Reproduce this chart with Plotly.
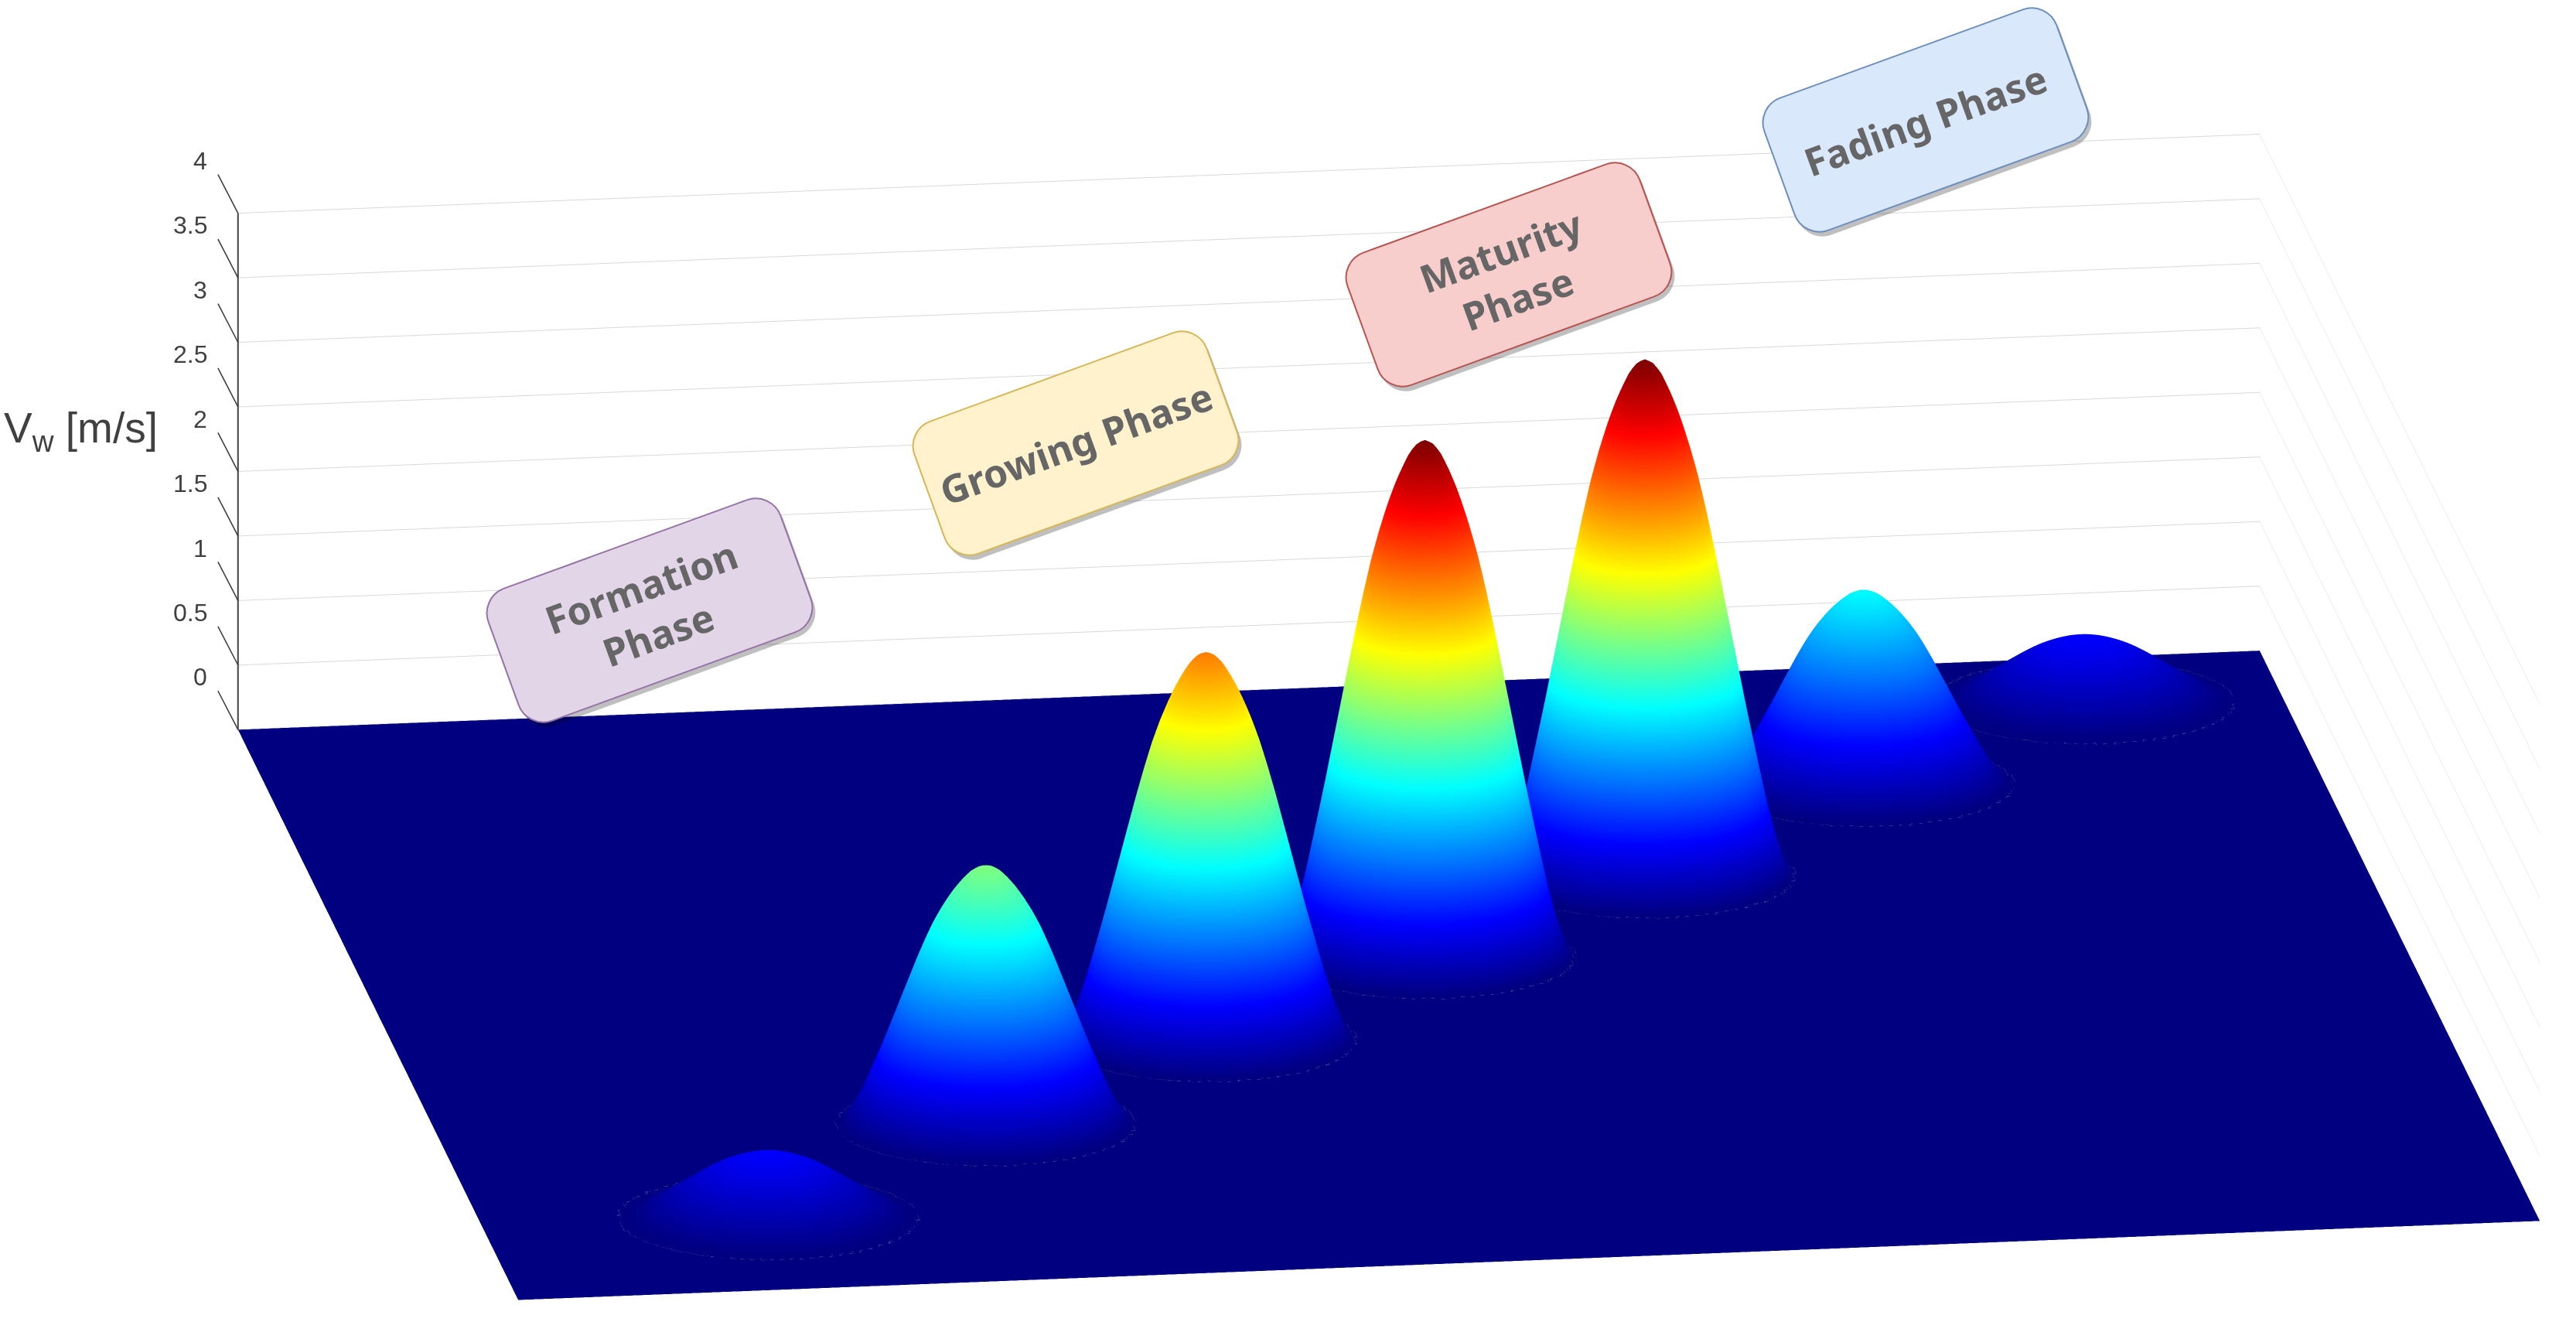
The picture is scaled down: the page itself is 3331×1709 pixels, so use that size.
import math
import numpy as np
import plotly.graph_objects as go

W, H = 3331, 1709

# --- values ---
hump_heights = [0.5, 2.0, 3.0, 4.0, 4.0, 1.5, 0.5]
hump_x = [0.141, 0.269, 0.396, 0.522, 0.648, 0.776, 0.903]
hump_y = [0.125, 0.272, 0.402, 0.53, 0.654, 0.797, 0.924]
# radial hump profile read from the silhouette of the tallest hump
profile_radius = [0.0, 0.0038, 0.0076, 0.0114, 0.0152, 0.019, 0.0228, 0.0266, 0.0304, 0.0342,
                  0.038, 0.0418, 0.0456, 0.0494, 0.0532, 0.057, 0.0608, 0.0646, 0.0684, 0.0722]
profile_height = [1.0, 0.993, 0.975, 0.945, 0.91, 0.868, 0.82, 0.765, 0.70, 0.63,
                  0.555, 0.48, 0.405, 0.33, 0.26, 0.19, 0.125, 0.07, 0.028, 0.0]

z_ticks = [0, 0.5, 1, 1.5, 2, 2.5, 3, 3.5, 4]
z_tick_labels = ["0", "0.5", "1", "1.5", "2", "2.5", "3", "3.5", "4"]
z_title = "V<sub>w</sub> [m/s]"

phase_labels = ["Formation<br>Phase", "Growing Phase", "Maturity<br>Phase", "Fading Phase"]
phase_cx = [840, 1391, 1951, 2490]
phase_cy = [789, 573, 355, 155]
phase_fill = ["#E1D5E7", "#FFF2CC", "#F8CECC", "#DAE8FC"]
phase_line = ["#9673A6", "#D6B656", "#B85450", "#6C8EBF"]

jet = [[0, "rgb(0,0,128)"], [0.125, "rgb(0,0,255)"], [0.375, "rgb(0,255,255)"],
       [0.625, "rgb(255,255,0)"], [0.875, "rgb(255,0,0)"], [1, "rgb(128,0,0)"]]

# --- surface grid assembled from the values above ---
gx = np.linspace(0, 1, 501)
gy = np.linspace(0, 1, 501)
XX, YY = np.meshgrid(gx, gy)
Z = np.zeros_like(XX)
for h, cx, cy in zip(hump_heights, hump_x, hump_y):
    r = np.hypot(XX - cx, YY - cy)
    Z += h * np.interp(r, profile_radius, profile_height)

no_contour = dict(show=False, highlight=False)
fig = go.Figure()
fig.add_trace(go.Surface(
    x=gx, y=gy, z=Z, colorscale=jet, cmin=0, cmax=4, showscale=False, hoverinfo="skip",
    lighting=dict(ambient=1, diffuse=0, specular=0, roughness=1, fresnel=0),
    contours=dict(x=no_contour, y=no_contour, z=no_contour),
))
fig.add_trace(go.Scatter3d(
    x=[0, 0], y=[1, 1], z=[z_ticks[0], z_ticks[-1]], mode="lines",
    line=dict(color="#404040", width=4), hoverinfo="skip", showlegend=False,
))

# axis tick marks and labels are anchored on the back-left vertical edge
scene_ann = []
for v, lab in zip(z_ticks, z_tick_labels):
    scene_ann.append(dict(x=0, y=1, z=v, text=" ", showarrow=True, arrowhead=0, arrowwidth=1.6,
                          arrowcolor="#404040", ax=-29, ay=-56, standoff=0))
    scene_ann.append(dict(x=0, y=1, z=v, text=lab, showarrow=False, xanchor="right",
                          xshift=-38, yshift=68, font=dict(family="Liberation Sans", size=32, color="#404040")))


def rounded_box(cx, cy, w, h, rad, ang_deg):
    a = math.radians(ang_deg)
    ca, sa = math.cos(a), math.sin(a)

    def p(u, v):
        sx = cx + u * ca - v * sa
        sy = cy + u * sa + v * ca
        return f"{sx / W:.5f},{1 - sy / H:.5f}"
    hw, hh = w / 2, h / 2
    k = rad * 0.45
    return (f"M{p(-hw + rad, -hh)} L{p(hw - rad, -hh)} C{p(hw - k, -hh)} {p(hw, -hh + k)} {p(hw, -hh + rad)} "
            f"L{p(hw, hh - rad)} C{p(hw, hh - k)} {p(hw - k, hh)} {p(hw - rad, hh)} "
            f"L{p(-hw + rad, hh)} C{p(-hw + k, hh)} {p(-hw, hh - k)} {p(-hw, hh - rad)} "
            f"L{p(-hw, -hh + rad)} C{p(-hw, -hh + k)} {p(-hw + k, -hh)} {p(-hw + rad, -hh)} Z")


shapes, anns = [], []
for lab, cx, cy, fc, lc in zip(phase_labels, phase_cx, phase_cy, phase_fill, phase_line):
    shapes.append(dict(type="path", xref="paper", yref="paper", layer="above",
                       path=rounded_box(cx + 4, cy + 6, 402, 182, 34, -20),
                       fillcolor="rgba(0,0,0,0.25)", line=dict(width=0)))
    shapes.append(dict(type="path", xref="paper", yref="paper", layer="above",
                       path=rounded_box(cx, cy, 402, 182, 34, -20),
                       fillcolor=fc, line=dict(color=lc, width=2)))
    anns.append(dict(xref="paper", yref="paper", x=cx / W, y=1 - cy / H, text=lab, showarrow=False,
                     textangle=-20, align="center", xanchor="center", yanchor="middle",
                     font=dict(family="Noto Sans", size=50, color="#666666", weight="bold")))
anns.append(dict(xref="paper", yref="paper", x=3 / W, y=1 - 557 / H, text=z_title, showarrow=False,
                 xanchor="left", yanchor="middle",
                 font=dict(family="Liberation Sans", size=55, color="#404040")))

hidden = dict(visible=False, range=[0, 1], autorange=False)
R = 8.0
ASPECT = 3.375
eye_dir = (-0.1317, -0.9503, 0.282)
fig.update_layout(
    width=W, height=H, autosize=False, margin=dict(l=0, r=0, t=0, b=0),
    paper_bgcolor="white", showlegend=False, shapes=shapes, annotations=anns,
    scene=dict(
        domain=dict(x=[0.0784, 1], y=[0, 0.915]),
        aspectmode="manual", aspectratio=dict(x=ASPECT, y=ASPECT, z=0.2637 * ASPECT),
        xaxis=hidden, yaxis=hidden,
        zaxis=dict(range=[0, 4], autorange=False, tickvals=z_ticks, showticklabels=False, title="",
                   showgrid=True, gridcolor="#d8d8d8", gridwidth=2, showline=False,
                   zeroline=False, showbackground=False, ticks=""),
        bgcolor="rgba(0,0,0,0)",
        camera=dict(projection=dict(type="orthographic"), up=dict(x=0, y=0, z=1),
                    center=dict(x=0, y=0, z=0),
                    eye=dict(x=eye_dir[0] * R, y=eye_dir[1] * R, z=eye_dir[2] * R)),
        annotations=scene_ann,
    ),
)

post = """
document.body.style.margin='0';
var svgs=document.querySelectorAll('.main-svg');
var up=document.querySelector('.layer-above .shapelayer');
if(up&&svgs.length>1){svgs[1].insertBefore(up,svgs[1].firstChild);}
"""
fig.write_html("out.html", post_script=post, config=dict(displayModeBar=False))
